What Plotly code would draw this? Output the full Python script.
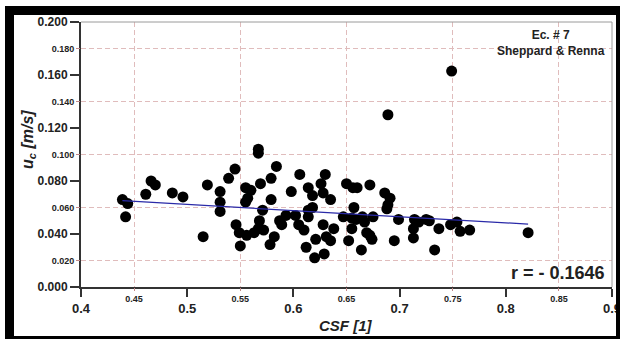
import plotly.graph_objects as go

# ---------------- data ----------------
csf = [0.439, 0.444, 0.442, 0.461, 0.466, 0.470, 0.486, 0.496, 0.515, 0.519,
       0.531, 0.531, 0.531, 0.539, 0.545, 0.546, 0.549, 0.550, 0.555, 0.560,
       0.557, 0.555, 0.556, 0.563, 0.567, 0.567, 0.569, 0.571, 0.568, 0.567,
       0.572, 0.579, 0.579, 0.584, 0.582, 0.578, 0.587, 0.589, 0.593, 0.598,
       0.602, 0.606, 0.605, 0.610, 0.614, 0.618, 0.614, 0.614, 0.618, 0.621,
       0.612, 0.620, 0.626, 0.630, 0.628, 0.635, 0.628, 0.638, 0.631, 0.635,
       0.629, 0.647, 0.650, 0.656, 0.660, 0.672, 0.657, 0.655, 0.659, 0.665,
       0.667, 0.675, 0.655, 0.652, 0.664, 0.669, 0.672, 0.674, 0.686, 0.691,
       0.689, 0.688, 0.699, 0.695, 0.714, 0.713, 0.713, 0.718, 0.725, 0.728,
       0.733, 0.737, 0.748, 0.754, 0.757, 0.766, 0.821, 0.749, 0.689]
uc = [0.066, 0.063, 0.053, 0.070, 0.080, 0.077, 0.071, 0.068, 0.038, 0.077,
      0.072, 0.064, 0.057, 0.082, 0.089, 0.047, 0.041, 0.031, 0.075, 0.073,
      0.067, 0.064, 0.039, 0.041, 0.104, 0.101, 0.078, 0.058, 0.050, 0.044,
      0.043, 0.066, 0.082, 0.091, 0.038, 0.032, 0.050, 0.047, 0.054, 0.072,
      0.054, 0.085, 0.047, 0.043, 0.075, 0.069, 0.058, 0.053, 0.060, 0.036,
      0.030, 0.022, 0.078, 0.085, 0.071, 0.066, 0.047, 0.044, 0.038, 0.035,
      0.025, 0.053, 0.078, 0.075, 0.075, 0.077, 0.060, 0.052, 0.051, 0.053,
      0.049, 0.053, 0.044, 0.035, 0.028, 0.041, 0.039, 0.036, 0.071, 0.067,
      0.062, 0.059, 0.051, 0.035, 0.051, 0.044, 0.037, 0.049, 0.051, 0.050,
      0.028, 0.044, 0.047, 0.049, 0.042, 0.043, 0.041, 0.163, 0.130]

fit_slope = -0.0462
fit_intercept = 0.0854
r_value = "- 0.1646"

x_major = [0.4, 0.5, 0.6, 0.7, 0.8, 0.9]
x_major_text = ["0.4", "0.5", "0.6", "0.7", "0.8", "0.9"]
x_minor = [0.45, 0.55, 0.65, 0.75, 0.85]
x_minor_text = ["0.45", "0.55", "0.65", "0.75", "0.85"]
y_major = [0.0, 0.04, 0.08, 0.12, 0.16, 0.20]
y_major_text = ["0.000", "0.040", "0.080", "0.120", "0.160", "0.200"]
y_minor = [0.02, 0.06, 0.10, 0.14, 0.18]
y_minor_text = ["0.020", "0.060", "0.100", "0.140", "0.180"]

# ---------------- layout geometry ----------------
W, H = 620, 339
ML, MR, MT, MB = 81, 8, 22, 52
PW, PH = W - ML - MR, H - MT - MB


def px(xp):
    return (xp - ML) / PW


def py(yp):
    return (H - MB - yp) / PH


FONT = "Liberation Sans, Arial, sans-serif"
GRID = "#e0bcbc"
AX = "#333333"

fig = go.Figure()

fit_x = [min(csf), max(csf)]
fit_y = [fit_intercept + fit_slope * v for v in fit_x]

fig.add_trace(go.Scatter(x=csf, y=uc, mode="markers",
                         marker=dict(color="black", size=11, line=dict(width=0)),
                         showlegend=False, hoverinfo="skip"))
fig.add_trace(go.Scatter(x=fit_x, y=fit_y, mode="lines",
                         line=dict(color="#2a2aa8", width=1.2),
                         showlegend=False, hoverinfo="skip"))
# invisible trace so the overlay (minor-label) axes are drawn
fig.add_trace(go.Scatter(x=[0.5], y=[0.1], xaxis="x2", yaxis="y2", mode="markers",
                         marker=dict(opacity=0), showlegend=False, hoverinfo="skip"))

fig.update_layout(
    width=W, height=H,
    margin=dict(l=ML, r=MR, t=MT, b=MB, pad=0, autoexpand=False),
    paper_bgcolor="white", plot_bgcolor="white",
    xaxis=dict(range=[0.4, 0.9], tickmode="array", tickvals=x_major, ticktext=x_major_text,
               tickfont=dict(family=FONT, size=13, color="#222", weight="bold"),
               ticks="outside", ticklen=8, tickwidth=2, tickcolor=AX, automargin=False,
               ticklabeloverflow="allow",
               showline=True, linewidth=2, linecolor=AX, showgrid=False, zeroline=False),
    xaxis2=dict(range=[0.4, 0.9], overlaying="x", anchor="y", side="bottom",
                tickmode="array", tickvals=x_minor, ticktext=x_minor_text,
                tickfont=dict(family=FONT, size=9, color="#222", weight="bold"),
                ticks="outside", ticklen=3, tickwidth=1, tickcolor="#c08888", automargin=False,
                showline=False, showgrid=True, gridcolor=GRID, gridwidth=1,
                griddash="5px,3px", zeroline=False),
    yaxis=dict(range=[0.0, 0.2], tickmode="array", tickvals=y_major, ticktext=y_major_text,
               tickfont=dict(family=FONT, size=12, color="#222", weight="bold"),
               ticks="outside", ticklen=9, tickwidth=2, tickcolor=AX, automargin=False,
               showline=True, linewidth=2, linecolor=AX, showgrid=False, zeroline=False),
    yaxis2=dict(range=[0.0, 0.2], overlaying="y", anchor="x", side="left",
                tickmode="array", tickvals=y_minor, ticktext=y_minor_text,
                tickfont=dict(family=FONT, size=9, color="#222", weight="bold"),
                ticks="outside", ticklen=4, tickwidth=1, tickcolor="#c08888", automargin=False,
                showline=False, showgrid=True, gridcolor=GRID, gridwidth=1,
                griddash="5px,3px", zeroline=False),
)

shapes = []
# light frame on top / right of plot area
shapes.append(dict(type="line", xref="paper", yref="paper", x0=0, x1=1, y0=1, y1=1,
                   line=dict(color="#9a9a9a", width=1)))
shapes.append(dict(type="line", xref="paper", yref="paper", x0=1, x1=1, y0=0, y1=1,
                   line=dict(color="#9a9a9a", width=1)))
# thick black outer frame
for (x0, y0, x1, y1) in [(5, 6, 620, 15), (5, 6, 14, 339), (5, 336, 620, 339), (616, 6, 620, 339)]:
    shapes.append(dict(type="rect", xref="paper", yref="paper",
                       x0=px(x0), x1=px(x1), y0=py(y1), y1=py(y0),
                       fillcolor="black", line=dict(width=0), layer="above"))
fig.update_layout(shapes=shapes)

fig.add_annotation(xref="paper", yref="paper", x=px(607), y=py(26), xanchor="right", yanchor="top",
                   text="Ec. # 7<br>Sheppard &amp; Renna", align="center", showarrow=False,
                   font=dict(family=FONT, size=12, color="#222", weight="bold"))
fig.add_annotation(xref="paper", yref="paper", x=px(607), y=py(273), xanchor="right", yanchor="middle",
                   text="r = " + r_value, showarrow=False,
                   font=dict(family=FONT, size=18, color="#222", weight="bold"))
fig.add_annotation(xref="paper", yref="paper", x=px(346), y=py(325), xanchor="center", yanchor="middle",
                   text="<i>CSF [1]</i>", showarrow=False,
                   font=dict(family=FONT, size=15, color="#222", weight="bold"))
fig.add_annotation(xref="paper", yref="paper", x=px(28), y=py(140), xanchor="center", yanchor="middle",
                   text="<i>u<sub>c</sub> [m/s]</i>", textangle=-90, showarrow=False,
                   font=dict(family=FONT, size=16, color="#222", weight="bold"))

fig.write_html("out.html", config={"displayModeBar": False},
               post_script="document.body.style.margin='0';")
